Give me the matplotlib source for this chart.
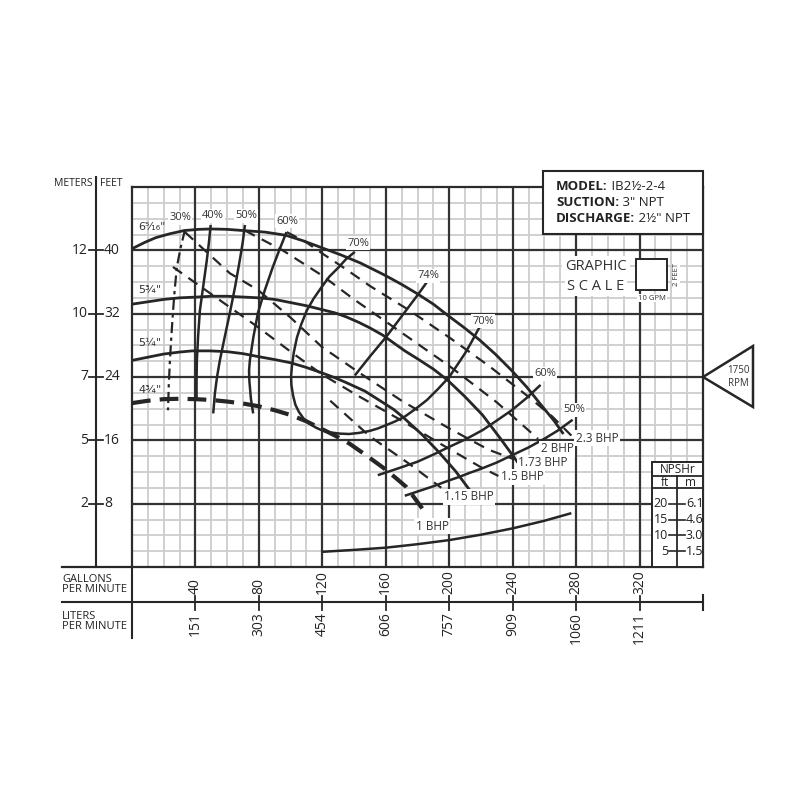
import matplotlib
matplotlib.use("Agg")
import matplotlib.pyplot as plt
from matplotlib.patches import Rectangle, Polygon

plt.rcParams['font.family'] = ['Open Sans', 'DejaVu Sans']

# ---------------- data ----------------
gpm_ticks = [40, 80, 120, 160, 200, 240, 280, 320]
lpm_labels = ['151', '303', '454', '606', '757', '909', '1060', '1211']
ft_ticks = [8, 16, 24, 32, 40]
m_labels = ['2', '5', '7', '10', '12']

# impeller head curves (GPM, feet)
imp_names = ['6⁵⁄₁₆"', '5¾"', '5¼"', '4¾"']
q_6516 = [0, 8, 15, 24, 33, 42, 50, 60, 70, 84, 97, 108, 120, 132, 144, 159, 170, 180, 190,
          199, 209, 219, 229, 239, 249, 259, 266, 272]
h_6516 = [40.2, 41.0, 41.6, 42.1, 42.5, 42.65, 42.7, 42.65, 42.5, 42.3, 41.9, 41.2, 40.3, 39.4,
          38.4, 36.9, 35.7, 34.5, 33.2, 31.8, 30.3, 28.7, 26.9, 24.9, 22.7, 20.2, 18.5, 16.8]
q_534 = [0, 10, 20, 30, 41, 50, 60, 70, 80, 90, 100, 110, 120, 128, 135, 143, 150, 158, 165,
         172, 180, 190, 199, 210, 221, 232, 244]
h_534 = [33.2, 33.5, 33.8, 34.0, 34.1, 34.2, 34.2, 34.1, 34.0, 33.8, 33.4, 33.0, 32.5, 32.1,
         31.6, 30.9, 30.2, 29.3, 28.3, 27.3, 26.3, 25.0, 23.6, 21.5, 19.2, 16.3, 13.0]
q_514 = [0, 10, 20, 30, 38, 49, 60, 70, 79, 90, 100, 110, 120, 128, 135, 147, 158, 165, 171,
         183, 194, 204, 213]
h_514 = [26.1, 26.5, 26.9, 27.15, 27.3, 27.3, 27.2, 26.95, 26.6, 26.2, 25.8, 25.2, 24.5, 23.9,
         23.3, 22.2, 20.8, 19.9, 18.9, 16.7, 14.4, 12.1, 9.7]
q_434 = [0, 10, 20, 30, 40, 50, 60, 70, 80, 90, 100, 110, 120, 128, 137, 147, 158, 166, 173, 183]
h_434 = [20.7, 21.0, 21.2, 21.25, 21.2, 21.1, 20.9, 20.65, 20.3, 19.8, 19.2, 18.4, 17.4, 16.6,
         15.6, 14.2, 12.6, 11.3, 10.1, 7.4]

# efficiency curves
q_e30 = [33.4, 30.5, 28.3, 26.9, 25.8, 24.8, 23.9, 23.2, 22.7]
h_e30 = [42.6, 40.2, 37.9, 35.0, 32.1, 29.1, 26.1, 23.0, 19.8]
q_e40 = [49.6, 48.5, 47.2, 45.0, 42.8, 41.7, 40.9, 40.7, 40.7]
h_e40 = [43.2, 41.0, 38.8, 35.6, 32.4, 29.2, 26.1, 23.6, 21.1]
q_e50 = [71.2, 69.8, 68.0, 65.0, 61.7, 58.4, 55.4, 53.6, 52.3, 51.2]
h_e50 = [43.2, 41.0, 38.8, 35.4, 32.1, 29.0, 26.1, 24.0, 22.0, 19.4]
q_e60 = [97.4, 92.8, 88.8, 83.8, 79.4, 76.5, 74.3, 73.8, 74.0, 75.0, 76.4]
h_e60 = [42.3, 40.0, 37.9, 35.0, 32.1, 29.0, 26.1, 24.8, 23.5, 21.2, 19.4]
q_e70 = [140.5, 135, 130, 124.5, 119.7, 114.5, 110.2, 106.8, 104, 102, 100.8, 100.3, 100.5,
         101.5, 103, 105.2, 108, 111.8, 116, 120.5, 125, 131, 137, 143.5, 150, 155, 160, 166,
         172, 179, 186, 193, 200, 205, 210, 214, 218, 222.4]
h_e70 = [39.8, 38.9, 37.8, 36.7, 35.4, 33.9, 32.4, 30.7, 29.0, 27.1, 25.3, 24.1, 23.0, 21.7,
         20.5, 19.6, 18.8, 18.1, 17.6, 17.2, 17.0, 16.85, 16.8, 16.95, 17.2, 17.5, 17.9, 18.4,
         19.0, 20.0, 21.1, 22.5, 24.0, 25.5, 27.0, 28.4, 29.9, 31.4]
q_e74 = [187, 181, 175, 167.5, 160, 150, 140.5]
h_e74 = [36.3, 34.6, 33.0, 31.0, 29.0, 26.6, 24.2]
q_e60r = [257.6, 248.5, 239.4, 230, 221.1, 211, 200.3, 190, 180, 167, 155]
h_e60r = [23.0, 21.3, 19.8, 18.5, 17.3, 16.2, 15.2, 14.2, 13.3, 12.4, 11.6]
q_e50r = [277.8, 269, 260, 250, 239.4, 230, 220, 213, 206.6, 198, 190, 181, 172]
h_e50r = [18.6, 17.3, 16.2, 15.1, 14.1, 13.2, 12.4, 11.9, 11.4, 10.8, 10.2, 9.6, 9.0]

# brake horsepower lines
bhp_names = ['2.3 BHP', '2 BHP', '1.73 BHP', '1.5 BHP', '1.15 BHP']
q_b23 = [97.6, 110, 120, 135, 150, 175, 200, 225, 250, 265, 277]
h_b23 = [42.3, 41.0, 39.6, 37.6, 35.5, 32.4, 29.0, 25.4, 21.5, 19.0, 16.6]
q_b20 = [71.2, 95, 120, 140, 170, 200, 230, 256]
h_b20 = [42.5, 40.0, 36.8, 33.8, 29.6, 25.4, 20.8, 16.2]
q_b173 = [33.4, 61.7, 79.4, 100, 119.7, 143.6, 170, 200, 225, 241]
h_b173 = [42.3, 37.1, 35.0, 31.5, 27.8, 24.5, 21.0, 17.5, 14.8, 13.6]
q_b15 = [25.8, 55.4, 79.4, 100, 120, 143.6, 170, 195, 220, 231]
h_b15 = [37.9, 33.7, 30.3, 27.2, 24.3, 21.5, 18.5, 15.5, 12.6, 11.5]
q_b115 = [125, 150, 175, 195]
h_b115 = [21.0, 16.5, 13.0, 10.0]

# NPSHr curve (GPM, ft of NPSH)
q_npsh = [120, 140, 160, 180, 200, 220, 240, 260, 277]
npsh_ft = [4.8, 5.4, 6.1, 7.2, 8.5, 10.2, 12.2, 14.6, 17.0]
npsh_ticks_ft = [20, 15, 10, 5]
npsh_ticks_m = ['6.1', '4.6', '3.0', '1.5']

# ---------------- figure ----------------
fig = plt.figure(figsize=(8, 8), dpi=100)
L, R, T, B = 132, 703, 187, 567
ax = fig.add_axes([L / 800, 1 - B / 800, (R - L) / 800, (B - T) / 800])
ax.set_xlim(0, 360)
ax.set_ylim(0, 48)
ax.set_xticks([])
ax.set_yticks([])
for s in ax.spines.values():
    s.set_color('#2b2b2b')
    s.set_linewidth(1.6)


def px2x(px):
    return (px - L) / (R - L) * 360


def px2y(py):
    return (B - py) / (B - T) * 48


DARK = '#262626'
MINOR = '#cdcdcd'

for x in range(10, 360, 10):
    if x % 40:
        ax.axvline(x, color=MINOR, lw=1.3, zorder=1)
for y in range(2, 48, 2):
    if y % 8:
        ax.axhline(y, color=MINOR, lw=1.3, zorder=1)
for x in range(40, 360, 40):
    ax.axvline(x, color='#333333', lw=1.6, zorder=1.5)
for y in range(8, 48, 8):
    ax.axhline(y, color='#333333', lw=1.6, zorder=1.5)

# curves
lk = dict(color=DARK, zorder=3, solid_capstyle='butt', solid_joinstyle='round')
ax.plot(q_6516, h_6516, lw=2.0, **lk)
ax.plot(q_534, h_534, lw=2.0, **lk)
ax.plot(q_514, h_514, lw=2.0, **lk)
ax.plot(q_434, h_434, lw=3.0, dashes=(4.5, 2.2), **lk)

ax.plot(q_e30, h_e30, lw=1.6, dashes=(5, 2, 1.5, 2), **lk)
for q, h in [(q_e40, h_e40), (q_e50, h_e50), (q_e60, h_e60), (q_e70, h_e70),
             (q_e74, h_e74), (q_e60r, h_e60r), (q_e50r, h_e50r)]:
    ax.plot(q, h, lw=1.8, **lk)

for q, h in [(q_b23, h_b23), (q_b20, h_b20), (q_b173, h_b173), (q_b15, h_b15), (q_b115, h_b115)]:
    ax.plot(q, h, lw=1.6, dashes=(5, 3.5), **lk)

npsh_scale = 8 / 20  # 20 ft NPSH drawn at 8 ft of chart height
ax.plot(q_npsh, [v * npsh_scale for v in npsh_ft], lw=1.8, **lk)

# labels
wb = dict(facecolor='white', edgecolor='none', pad=1.0)
tk = dict(fontsize=8, color='#333333', zorder=5, ha='center', va='center')
pct_pos = [(180, 218, '30%'), (213, 216, '40%'), (246, 216, '50%'), (287, 221, '60%'),
           (358, 243, '70%'), (428, 276, '74%'), (483, 321, '70%'), (545, 374, '60%'),
           (574, 410, '50%')]
for px, py, t in pct_pos:
    ax.text(px2x(px), px2y(py), t, bbox=wb, **tk)

bhp_pos = [(597, 438), (557, 449), (543, 463), (522, 477), (469, 497)]
for (px, py), t in zip(bhp_pos, bhp_names):
    ax.text(px2x(px), px2y(py), t, bbox=wb, **{**tk, 'fontsize': 8.5})
ax.text(px2x(432), px2y(526), '1 BHP', bbox=wb, **{**tk, 'fontsize': 8.5})

imp_pos = [(138, 227), (138, 290), (138, 343), (138, 390)]
for (px, py), t in zip(imp_pos, imp_names):
    ax.text(px2x(px), px2y(py), t, fontsize=8, color='#333333', ha='left', va='center',
            family=['DejaVu Sans'], zorder=5)

# left axis
ax.plot([px2x(96)] * 2, [px2y(177), 0], color=DARK, lw=1.5, clip_on=False)
for f, m in zip(ft_ticks, m_labels):
    ax.plot([px2x(89), px2x(103)], [f, f], color=DARK, lw=1.3, clip_on=False)
    ax.text(px2x(88), f, m, fontsize=10, ha='right', va='center', color='#222')
    ax.text(px2x(104), f, str(f), fontsize=10, ha='left', va='center', color='#222')
ax.text(px2x(93), px2y(183), 'METERS', fontsize=7.5, ha='right', va='center', color='#222')
ax.text(px2x(100), px2y(183), 'FEET', fontsize=7.5, ha='left', va='center', color='#222')

# bottom axes
ax.plot([px2x(62), 0], [0, 0], color=DARK, lw=1.6, clip_on=False)
ax.plot([px2x(62), 360], [px2y(602)] * 2, color=DARK, lw=1.5, clip_on=False)
ax.plot([0, 0], [0, px2y(638)], color=DARK, lw=1.5, clip_on=False)
ax.plot([360, 360], [px2y(595), px2y(610)], color=DARK, lw=1.5, clip_on=False)
for g, l in zip(gpm_ticks, lpm_labels):
    ax.plot([g, g], [px2y(596), px2y(610)], color=DARK, lw=1.3, clip_on=False)
    ax.text(g, px2y(594), str(g), rotation=90, fontsize=10, ha='center', va='bottom', color='#222')
    ax.text(g, px2y(612), l, rotation=90, fontsize=10, ha='center', va='top', color='#222')
ax.text(px2x(62), px2y(584.5), 'GALLONS\nPER MINUTE', fontsize=8, ha='left', va='center',
        color='#222', linespacing=0.95)
ax.text(px2x(62), px2y(621.5), 'LITERS\nPER MINUTE', fontsize=8, ha='left', va='center',
        color='#222', linespacing=0.95)

# model box
ax.add_patch(Rectangle((px2x(543), px2y(234)), px2x(703) - px2x(543), px2y(171) - px2y(234),
                       facecolor='white', edgecolor=DARK, lw=1.5, zorder=6, clip_on=False))
for py, b, r in [(187, 'MODEL:', ' IB2½-2-4'), (203, 'SUCTION:', ' 3" NPT'),
                 (219, 'DISCHARGE:', ' 2½" NPT')]:
    t1 = ax.text(px2x(556), px2y(py), b, fontsize=9.5, fontweight='bold', ha='left',
                 va='center', color='#222', zorder=7)
    ax.annotate(r, xycoords=t1, xy=(1, 0.5), va='center', ha='left', fontsize=9.5,
                color='#222', zorder=7)

# graphic scale
ax.text(px2x(596), px2y(266), 'GRAPHIC', fontsize=10.5, ha='center', va='center', color='#333',
        bbox=dict(facecolor='white', edgecolor='none', pad=2), zorder=5)
ax.text(px2x(596), px2y(286), 'S C A L E', fontsize=10.5, ha='center', va='center', color='#333',
        bbox=dict(facecolor='white', edgecolor='none', pad=2), zorder=5)
ax.add_patch(Rectangle((px2x(636), px2y(290)), px2x(667) - px2x(636), px2y(259) - px2y(290),
                       facecolor='white', edgecolor=DARK, lw=1.4, zorder=5))
ax.text(px2x(676), px2y(274), '2 FEET', rotation=90, fontsize=5.5, ha='center', va='center',
        color='#333', bbox=dict(facecolor='white', edgecolor='none', pad=0.5), zorder=5)
ax.text(px2x(652), px2y(298), '10 GPM', fontsize=5.5, ha='center', va='center', color='#333',
        bbox=dict(facecolor='white', edgecolor='none', pad=0.5), zorder=5)

# NPSHr box
ax.add_patch(Rectangle((px2x(652), 0), 360 - px2x(652), px2y(462), facecolor='white',
                       edgecolor=DARK, lw=1.4, zorder=6))
for py in (476, 488):
    ax.plot([px2x(652), 360], [px2y(py)] * 2, color=DARK, lw=1.3, zorder=7)
ax.plot([px2x(677)] * 2, [px2y(476), 0], color=DARK, lw=1.3, zorder=7)
ax.text(px2x(677.5), px2y(469.5), 'NPSHr', fontsize=8.5, ha='center', va='center', color='#222',
        zorder=8)
ax.text(px2x(665), px2y(482), 'ft', fontsize=8.5, ha='center', va='center', color='#222', zorder=8)
ax.text(px2x(690), px2y(482), 'm', fontsize=8.5, ha='center', va='center', color='#222', zorder=8)
for f, m in zip(npsh_ticks_ft, npsh_ticks_m):
    y = f * npsh_scale
    ax.plot([px2x(669), px2x(685)], [y, y], color=DARK, lw=1.2, zorder=7)
    ax.text(px2x(668), y, str(f), fontsize=9, ha='right', va='center', color='#222', zorder=8)
    ax.text(px2x(686), y, m, fontsize=9, ha='left', va='center', color='#222', zorder=8)

# RPM triangle
ax.add_patch(Polygon([(360, 24), (px2x(753), px2y(346)), (px2x(753), px2y(407))], closed=True,
                     facecolor='white', edgecolor=DARK, lw=1.8, clip_on=False, zorder=6))
ax.text(px2x(738), 24, '1750\nRPM', fontsize=7, ha='center', va='center', color='#333',
        linespacing=1.2, zorder=7)

fig.savefig('out.png', dpi=100, facecolor='white')
